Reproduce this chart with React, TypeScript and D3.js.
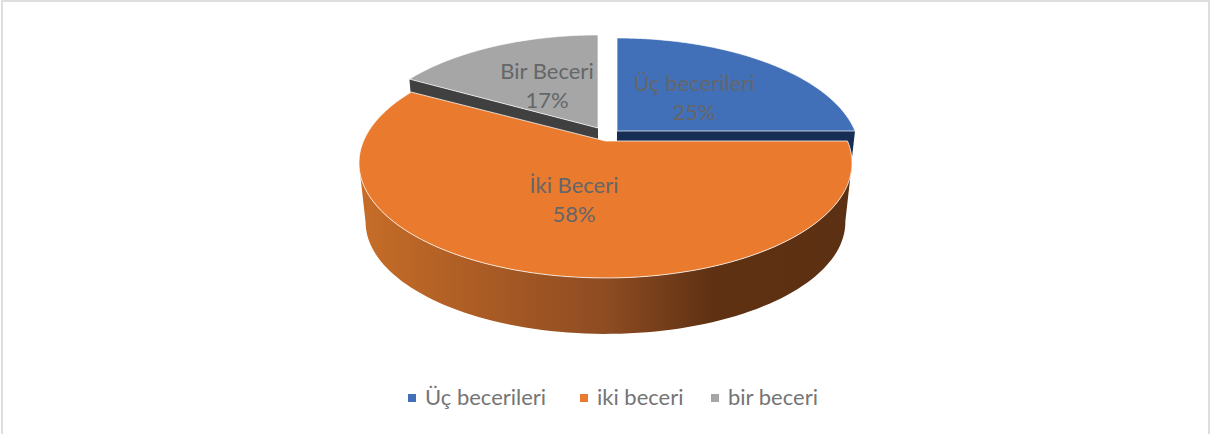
import React from 'react'
import * as d3 from 'd3'

const categories = ['Üç becerileri', 'iki beceri', 'bir beceri']
const sliceLabels = ['Üç becerileri', 'İki Beceri', 'Bir Beceri']
const values = [25, 58, 17]
const colors = ['#4270b8', '#ea7b2e', '#a5a6a5']
const sideColors = ['#162d54', '#5c3012', '#404040']

const width = 1210
const height = 434

// perspective of the tilted disc
const tilt = 0.191
const depthY = 110.8
const vanishY = 2350
const bottomScale = 0.973

// slice layout, every slice is pulled out from the middle on its own
const layout = [
  { ax: 617, ay: 131, r: 238, labelX: 694, labelY: 91 },
  { ax: 605.5, ay: 141, r: 242, labelX: 574, labelY: 193 },
  { ax: 598, ay: 128, r: 235, labelX: 547, labelY: 79 },
]

const pie = d3.pie<number>().sort(null).startAngle(0).endAngle(Math.PI * 2)
const slices = pie(values)

function project(ax: number, ay: number, r: number, angle: number): [number, number] {
  const u = Math.sin(angle)
  const v = Math.cos(angle)
  const w = 1 + tilt * v
  return [ax + (r * u) / w, ay - (depthY * v) / w]
}

function lower(p: [number, number], cx: number): [number, number] {
  return [cx + (p[0] - cx) * bottomScale, vanishY + (p[1] - vanishY) * bottomScale]
}

const line = d3.line()

function rim(i: number, a0: number, a1: number) {
  const { ax, ay, r } = layout[i]
  const n = 120
  return d3.range(n + 1).map(k => project(ax, ay, r, a0 + ((a1 - a0) * k) / n))
}

function topFace(i: number) {
  const { ax, ay } = layout[i]
  const s = slices[i]
  return line([[ax, ay], ...rim(i, s.startAngle, s.endAngle)])! + 'Z'
}

// only the front part of the rim, from widest point to widest point
function sideFace(i: number) {
  const s = slices[i]
  const all = rim(i, s.startAngle, s.endAngle)
  const from = d3.greatestIndex(all, p => p[0])!
  const to = d3.leastIndex(all, p => p[0])!
  const pts = all.slice(from, to + 1)
  const cx = layout[1].ax
  return line([...pts, ...pts.map(p => lower(p, cx)).reverse()])! + 'Z'
}

// flat cut face running from the slice tip to its rim
function cutFace(i: number, angle: number) {
  const { ax, ay, r } = layout[i]
  const cx = layout[1].ax
  const a: [number, number] = [ax, ay]
  const b = project(ax, ay, r, angle)
  return line([a, b, lower(b, cx), lower(a, cx)])! + 'Z'
}

const rimShade = ['#c66d28', '#b05f25', '#8e4c22', '#5f3113', '#5c3012']
const rimStops = [0, 0.2, 0.5, 0.72, 1]

export default function App() {
  const legendX = d3.scaleOrdinal<string, number>().domain(categories).range([408, 580, 711])

  return (
    <svg
      width={width}
      height={height}
      style={{ position: 'absolute', left: 0, top: 0, display: 'block', fontFamily: 'Lato, sans-serif' }}
    >
      <defs>
        <linearGradient id="rimShade" gradientUnits="userSpaceOnUse" x1={360} x2={850} y1={0} y2={0}>
          {rimShade.map((c, i) => (
            <stop key={i} offset={rimStops[i]} stopColor={c} />
          ))}
        </linearGradient>
      </defs>
      <rect x={2} y={1} width={width - 3} height={height} fill="#fff" stroke="#dedede" strokeWidth={2} />

      {/* back slices first, the big one sits over them */}
      <path d={cutFace(0, slices[0].endAngle)} fill={sideColors[0]} />
      <path d={cutFace(2, slices[2].startAngle)} fill={sideColors[2]} />
      <path d={topFace(0)} fill={colors[0]} stroke="#fff" strokeOpacity={0.7} strokeWidth={1} />
      <path d={topFace(2)} fill={colors[2]} stroke="#fff" strokeOpacity={0.7} strokeWidth={1} />
      <path d={sideFace(1)} fill="url(#rimShade)" />
      <path d={topFace(1)} fill={colors[1]} stroke="#fff" strokeOpacity={0.75} strokeWidth={1} />

      {slices.map((s, i) => (
        <text
          key={i}
          x={layout[i].labelX}
          y={layout[i].labelY}
          textAnchor="middle"
          fontSize={22}
          fill="#646669"
        >
          <tspan x={layout[i].labelX}>{sliceLabels[i]}</tspan>
          <tspan x={layout[i].labelX} dy={29}>
            {d3.format('.0%')(s.value / d3.sum(values))}
          </tspan>
        </text>
      ))}

      {categories.map((c, i) => (
        <g key={c} transform={`translate(${legendX(c)},394)`}>
          <rect width={8} height={8} fill={colors[i]} />
          <text x={17} y={11} fontSize={22} fill="#757575">
            {c}
          </text>
        </g>
      ))}
    </svg>
  )
}
